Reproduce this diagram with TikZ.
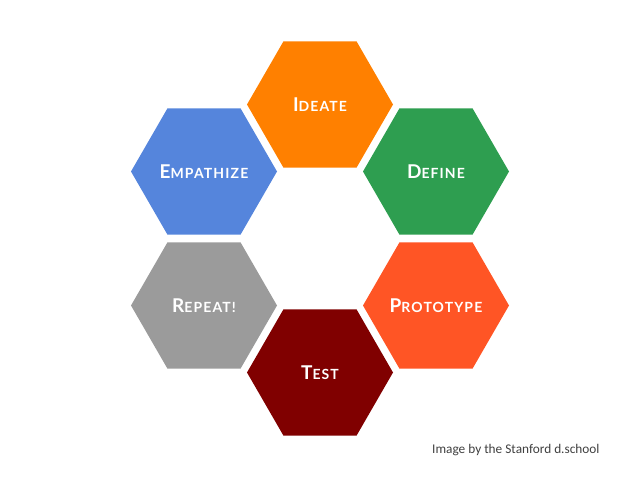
\documentclass[tikz,border=0pt]{standalone}
\usepackage{fontspec}
\setmainfont{Lato}
\newfontfamily\hexfont{Lato}[LetterSpace=8]
\newfontfamily\captionfont{Carlito}
\usetikzlibrary{shapes.geometric}

\definecolor{ideateorange}{RGB}{255,128,0}
\definecolor{definegreen}{RGB}{46,158,80}
\definecolor{protored}{RGB}{255,85,37}
\definecolor{testred}{RGB}{128,0,0}
\definecolor{repeatgray}{RGB}{155,155,155}
\definecolor{empathblue}{RGB}{85,133,220}
\definecolor{captiongray}{RGB}{64,64,64}

% fake small caps: big first letter, rest smaller (zero width, so the hexagon keeps its size)
\newcommand{\hexcap}[2]{\makebox[0pt]{{\fontsize{19}{19}\selectfont #1}{\fontsize{14}{14}\selectfont #2}}}

\begin{document}
\begin{tikzpicture}[x=1pt,y=-1pt,
  hex/.style={regular polygon,regular polygon sides=6,minimum size=146pt,
    inner sep=0pt,draw=none,text=white,font=\hexfont\bfseries}]
\useasboundingbox (0,0) rectangle (638,479);
\draw (320,104.5) node[hex,fill=ideateorange](ideate) {\hexcap{I}{DEATE}};
\draw (436,171.5) node[hex,fill=definegreen](define) {\hexcap{D}{EFINE}};
\draw (436,305.5) node[hex,fill=protored](prototype) {\hexcap{P}{ROTOTYPE}};
\draw (320,372.5) node[hex,fill=testred](test) {\hexcap{T}{EST}};
\draw (204,305.5) node[hex,fill=repeatgray](repeat) {\hexcap{R}{EPEAT!}};
\draw (204,171.5) node[hex,fill=empathblue](empathize) {\hexcap{E}{MPATHIZE}};
\draw (432,453) node[anchor=base west,inner sep=0pt,text=captiongray,font=\captionfont\fontsize{13.3}{13.3}\selectfont](credit) {Image by the Stanford d.school};
\end{tikzpicture}
\end{document}
